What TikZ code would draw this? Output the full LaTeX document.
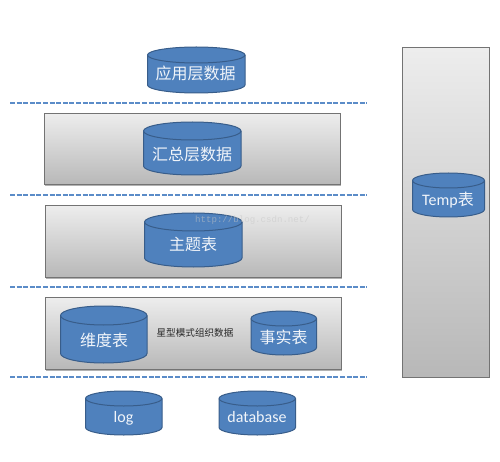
\documentclass[tikz,border=0pt]{standalone}
\usepackage{fontspec}
\setmainfont{Carlito}
\newfontfamily\cjk{Noto Sans CJK SC}
\newfontfamily\wm{Liberation Mono}
\usetikzlibrary{shadows}
\definecolor{cylfill}{HTML}{4F81BD}
\definecolor{cyledge}{HTML}{385D8A}
\definecolor{dashc}{HTML}{5B8CC8}
\tikzset{
  x=1pt,y=-1pt,
  panel/.style={draw=black!55,line width=0.9pt,top color=black!7,bottom color=black!28,
     drop shadow={shadow xshift=0.8pt,shadow yshift=-1.2pt,opacity=0.3,fill=black}},
  cylbody/.style={draw=cyledge,line width=1pt,fill=cylfill},
  cyllabel/.style={text=white!92!cylfill,inner sep=0pt,font=\fontsize{16}{18}\selectfont\cjk},
  latinlabel/.style={text=white!92!cylfill,inner sep=0pt,font=\fontsize{16}{18}\selectfont},
  caption/.style={text=black!85,inner sep=0pt,font=\fontsize{9.6}{11}\selectfont\cjk},
  sep/.style={draw=dashc,line width=1.5pt,dash pattern=on 5pt off 1.6pt},
  wmark/.style={text=black!22,text opacity=0.55,inner sep=0pt,font=\fontsize{9.1}{11}\selectfont\wm},
}
% #1 name, #2 x left, #3 x right, #4 y top, #5 y bottom, #6 ellipse half-height
\newcommand{\dbcyl}[6]{%
  \pgfmathsetmacro{\rxv}{(#3-#2)/2}%
  \pgfmathsetmacro{\cxv}{(#3+#2)/2}%
  \pgfmathsetmacro{\tyv}{#4+#6}%
  \pgfmathsetmacro{\byv}{#5-#6}%
  \path[cylbody] (#2,\tyv) arc[start angle=180,end angle=360,x radius=\rxv,y radius=#6]
     -- (#3,\byv) arc[start angle=0,end angle=180,x radius=\rxv,y radius=#6] -- cycle;
  \draw[cylbody,fill=none] (#2,\tyv) arc[start angle=180,end angle=0,x radius=\rxv,y radius=#6];
  \coordinate (#1) at (\cxv,\tyv);
}
\begin{document}
\begin{tikzpicture}
\useasboundingbox (0,0) rectangle (500,462);
% panels
\node[panel,anchor=north west,inner sep=0pt,minimum width=296pt,minimum height=71.5pt] (p1) at (44.2,113) {};
\node[panel,anchor=north west,inner sep=0pt,minimum width=296pt,minimum height=72pt] (p2) at (44.8,205) {};
\node[panel,anchor=north west,inner sep=0pt,minimum width=296pt,minimum height=72pt] (p3) at (44.8,297) {};
\node[panel,anchor=north west,inner sep=0pt,minimum width=86.5pt,minimum height=330pt] (p4) at (402,46.7) {};
% separators
\foreach \n/\yy in {a/103,b/195,c/287,d/377}{
  \coordinate (l\n) at (10,\yy);
  \coordinate (r\n) at (366.5,\yy);
  \draw[sep] (l\n) -- (r\n);
}
% cylinders
\dbcyl{c1}{147.5}{245}{47}{93}{8}
\dbcyl{c2}{143.5}{241}{122}{175}{9}
\dbcyl{c3}{144.5}{242}{213}{267}{9}
\dbcyl{c4}{60.5}{147}{306}{363}{9.5}
\dbcyl{c5}{251}{316.5}{311}{355}{7.5}
\dbcyl{c6}{85.5}{162}{391}{435}{7.5}
\dbcyl{c7}{219}{295.5}{391}{435}{7.5}
\dbcyl{c8}{412.5}{484.5}{173}{217}{7.5}
% labels
\node[cyllabel] (t1) at (195.5,73) {应用层数据};
\node[cyllabel] (t2) at (192,154) {汇总层数据};
\node[cyllabel] (t3) at (193,244) {主题表};
\node[cyllabel] (t4) at (104,340) {维度表};
\node[cyllabel] (t5) at (283.5,337) {事实表};
\node[latinlabel] (t6) at (123.5,418) {log};
\node[latinlabel] (t7) at (257,417.5) {database};
\node[latinlabel] (t8) at (448,200) {Temp{\cjk 表}};
\node[caption] (t9) at (195,333) {星型模式组织数据};
\node[wmark] (t10) at (252.5,220) {http://blog.csdn.net/};
\end{tikzpicture}
\end{document}
